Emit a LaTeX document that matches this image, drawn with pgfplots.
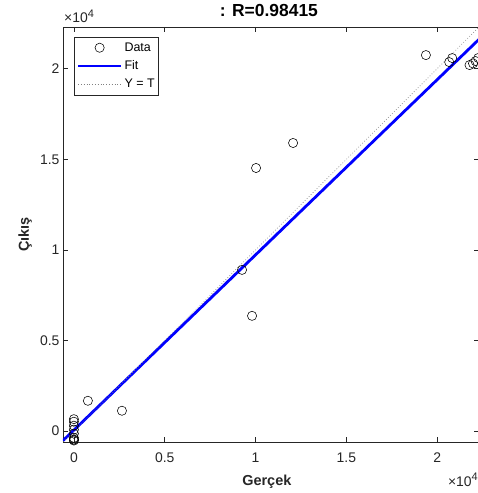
\documentclass[border=0pt]{standalone}
\usepackage{fontspec}
\setmainfont{Liberation Sans}
\usepackage{pgfplots}
\pgfplotsset{compat=1.18}

\definecolor{axGray}{HTML}{262626}
\definecolor{fitBlue}{HTML}{0000FF}
\definecolor{idGray}{HTML}{808080}

\pgfplotsset{
  lineLegend/.style={legend image code/.code={\draw[##1] (0bp,0bp) -- (43bp,0bp);}},
  markLegend/.style={legend image code/.code={\draw[mark repeat=2,mark phase=2,##1]
    plot coordinates {(0bp,0bp) (21.5bp,0bp) (43bp,0bp)};}},
}

\newcommand{\tenfour}{×10\raisebox{5.5bp}{\fontsize{11}{12}\selectfont 4}}

\begin{document}
\begin{tikzpicture}[x=1bp,y=1bp]
  \begin{axis}[
    at={(0,0)}, anchor=south west,
    scale only axis,
    width=416bp, height=415bp,
    xmin=-600, xmax=22300,
    ymin=-600, ymax=22300,
    xtick={0,5000,10000,15000,20000},
    xticklabels={0,0.5,1,1.5,2},
    ytick={0,5000,10000,15000,20000},
    yticklabels={0,0.5,1,1.5,2},
    scaled ticks=false,
    tick align=inside,
    major tick length=5bp,
    axis line style={draw=axGray, line width=0.5bp},
    tick style={draw=axGray, line width=0.5bp},
    tick label style={font=\fontsize{14}{16}\selectfont, text=axGray},
    /pgf/number format/assume math mode=true,
    xticklabel style={yshift=-7bp},
    title={: R=0.98415},
    title style={font=\bfseries\fontsize{17.5}{20}\selectfont, anchor=center,
      at={(axis description cs:0.495,1.026)}},
    xlabel={Gerçek},
    xlabel style={font=\bfseries\fontsize{14.5}{16}\selectfont, text=axGray,
      anchor=center, at={(axis description cs:0.49,-0.0964)}},
    ylabel={Çıkış},
    ylabel style={font=\bfseries\fontsize{14.5}{16}\selectfont, text=axGray,
      anchor=center, at={(axis description cs:-0.0913,0.5)}},
    legend style={at={(axis description cs:0.0276,0.976)}, anchor=north west,
      draw=axGray, line width=0.5bp, fill=white,
      font=\fontsize{12.5}{14}\selectfont, text=black,
      inner xsep=2bp, inner ysep=3.5bp, row sep=4bp},
    legend cell align=left,
  ]
    % data points (target, output)
    \addplot[only marks, mark=o, mark size=4.6bp, black,
      mark options={line width=0.55bp}, markLegend]
      coordinates {
        (0,660) (0,520) (0,300) (0,80) (0,-140) (0,-370) (0,-470)
        (0,-470) (0,-520)
        (770,1675) (2645,1125)
        (9256,8898) (9807,6362) (10028,14520) (12066,15900)
        (19377,20750) (20660,20364) (20826,20586)
        (21780,20200) (21970,20290) (22110,20420) (22260,20590)
      };
    \addlegendentry{Data}
    % linear fit
    \addplot[fitBlue, line width=2.8bp, lineLegend]
      coordinates {(-600,-524) (22300,21620)};
    \addlegendentry{Fit}
    % identity
    \addplot[idGray, line width=0.6bp, dash pattern=on 0.8bp off 2bp, lineLegend]
      coordinates {(-600,-600) (22300,22300)};
    \addlegendentry{Y = T}
  \end{axis}
  \node[anchor=base west, inner sep=0pt, text=axGray,
    font=\fontsize{14}{16}\selectfont] at (1bp,419bp) {\tenfour};
  \node[anchor=base east, inner sep=0pt, text=axGray,
    font=\fontsize{14}{16}\selectfont] at (415bp,-44bp) {\tenfour};
  \pgfresetboundingbox
  \useasboundingbox (-63bp,-51bp) rectangle (415bp,442bp);
\end{tikzpicture}
\end{document}
